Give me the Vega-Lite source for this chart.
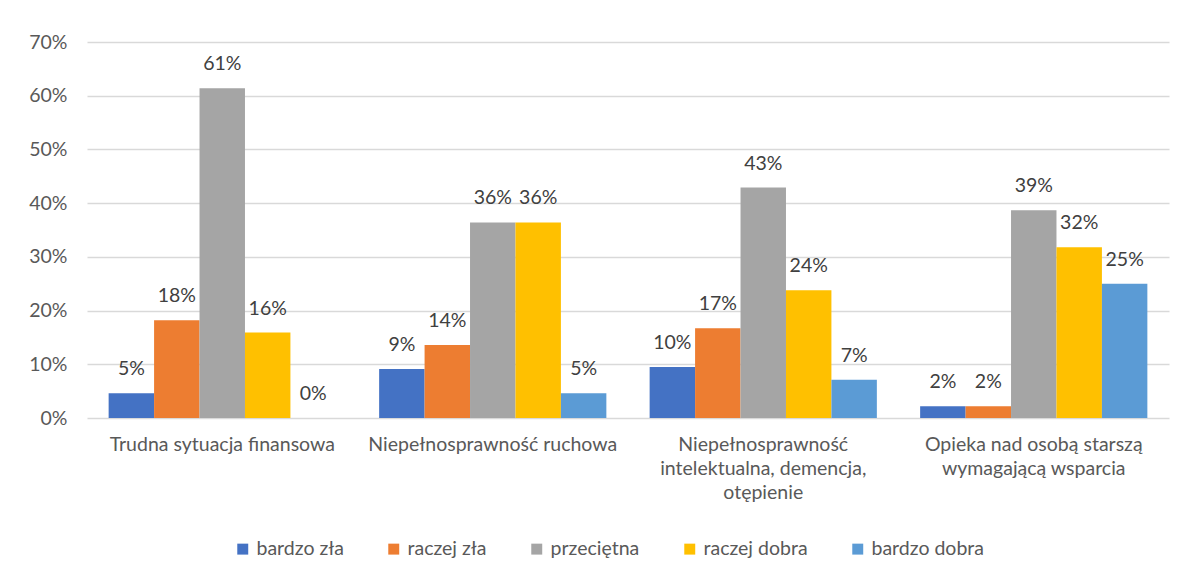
{
  "$schema": "https://vega.github.io/schema/vega-lite/v6.json",
  "width": 1082,
  "height": 376,
  "padding": {"left": 28, "top": 32, "right": 28, "bottom": 5},
  "background": "white",
  "config": {
    "font": "Lato",
    "view": {"stroke": null},
    "axis": {"labelFont": "Lato", "labelColor": "#595959", "labelFontSize": 19.5, "domain": false, "ticks": false},
    "legend": {"labelFont": "Lato", "labelColor": "#595959", "labelFontSize": 19.5}
  },
  "data": {
    "values": [
      {"cat": "Trudna sytuacja finansowa", "s": "bardzo zła", "v": 0.046},
      {"cat": "Trudna sytuacja finansowa", "s": "raczej zła", "v": 0.182},
      {"cat": "Trudna sytuacja finansowa", "s": "przeciętna", "v": 0.614},
      {"cat": "Trudna sytuacja finansowa", "s": "raczej dobra", "v": 0.159},
      {"cat": "Trudna sytuacja finansowa", "s": "bardzo dobra", "v": 0.0},
      {"cat": "Niepełnosprawność ruchowa", "s": "bardzo zła", "v": 0.091},
      {"cat": "Niepełnosprawność ruchowa", "s": "raczej zła", "v": 0.136},
      {"cat": "Niepełnosprawność ruchowa", "s": "przeciętna", "v": 0.364},
      {"cat": "Niepełnosprawność ruchowa", "s": "raczej dobra", "v": 0.364},
      {"cat": "Niepełnosprawność ruchowa", "s": "bardzo dobra", "v": 0.046},
      {"cat": "Niepełnosprawność|intelektualna, demencja,|otępienie", "s": "bardzo zła", "v": 0.095},
      {"cat": "Niepełnosprawność|intelektualna, demencja,|otępienie", "s": "raczej zła", "v": 0.167},
      {"cat": "Niepełnosprawność|intelektualna, demencja,|otępienie", "s": "przeciętna", "v": 0.429},
      {"cat": "Niepełnosprawność|intelektualna, demencja,|otępienie", "s": "raczej dobra", "v": 0.238},
      {"cat": "Niepełnosprawność|intelektualna, demencja,|otępienie", "s": "bardzo dobra", "v": 0.071},
      {"cat": "Opieka nad osobą starszą|wymagającą wsparcia", "s": "bardzo zła", "v": 0.022},
      {"cat": "Opieka nad osobą starszą|wymagającą wsparcia", "s": "raczej zła", "v": 0.022},
      {"cat": "Opieka nad osobą starszą|wymagającą wsparcia", "s": "przeciętna", "v": 0.387},
      {"cat": "Opieka nad osobą starszą|wymagającą wsparcia", "s": "raczej dobra", "v": 0.318},
      {"cat": "Opieka nad osobą starszą|wymagającą wsparcia", "s": "bardzo dobra", "v": 0.25}
    ]
  },
  "encoding": {
    "x": {
      "field": "cat", "type": "nominal", "sort": null, "title": null,
      "scale": {"paddingInner": 0.16, "paddingOuter": 0.08},
      "axis": {"labelAngle": 0, "labelPadding": 17, "labelLineHeight": 24, "labelExpr": "split(datum.label, '|')", "labelLimit": 300}
    },
    "xOffset": {"field": "s", "type": "nominal", "sort": ["bardzo zła", "raczej zła", "przeciętna", "raczej dobra", "bardzo dobra"]},
    "y": {
      "field": "v", "type": "quantitative", "title": null,
      "scale": {"domain": [0, 0.7], "nice": false},
      "axis": {"format": ".0%", "values": [0, 0.1, 0.2, 0.3, 0.4, 0.5, 0.6, 0.7], "labelOverlap": false, "labelPadding": 20, "gridColor": "#d9d9d9", "gridWidth": 1.3}
    }
  },
  "layer": [
    {
      "mark": {"type": "bar"},
      "encoding": {
        "color": {
          "field": "s", "type": "nominal", "title": null,
          "sort": ["bardzo zła", "raczej zła", "przeciętna", "raczej dobra", "bardzo dobra"],
          "scale": {"domain": ["bardzo zła", "raczej zła", "przeciętna", "raczej dobra", "bardzo dobra"], "range": ["#4472C4", "#ED7D31", "#A5A5A5", "#FFC000", "#5B9BD5"]},
          "legend": {"orient": "none", "legendX": 146, "legendY": 497, "direction": "horizontal", "symbolType": "square", "symbolSize": 120, "symbolStrokeWidth": 0, "columnPadding": 40, "labelOffset": 4}
        }
      }
    },
    {
      "mark": {"type": "text", "baseline": "alphabetic", "dy": -18, "fontSize": 19.5, "color": "#404040", "font": "Lato"},
      "encoding": {
        "text": {"field": "v", "type": "quantitative", "format": ".0%"}
      }
    }
  ]
}
